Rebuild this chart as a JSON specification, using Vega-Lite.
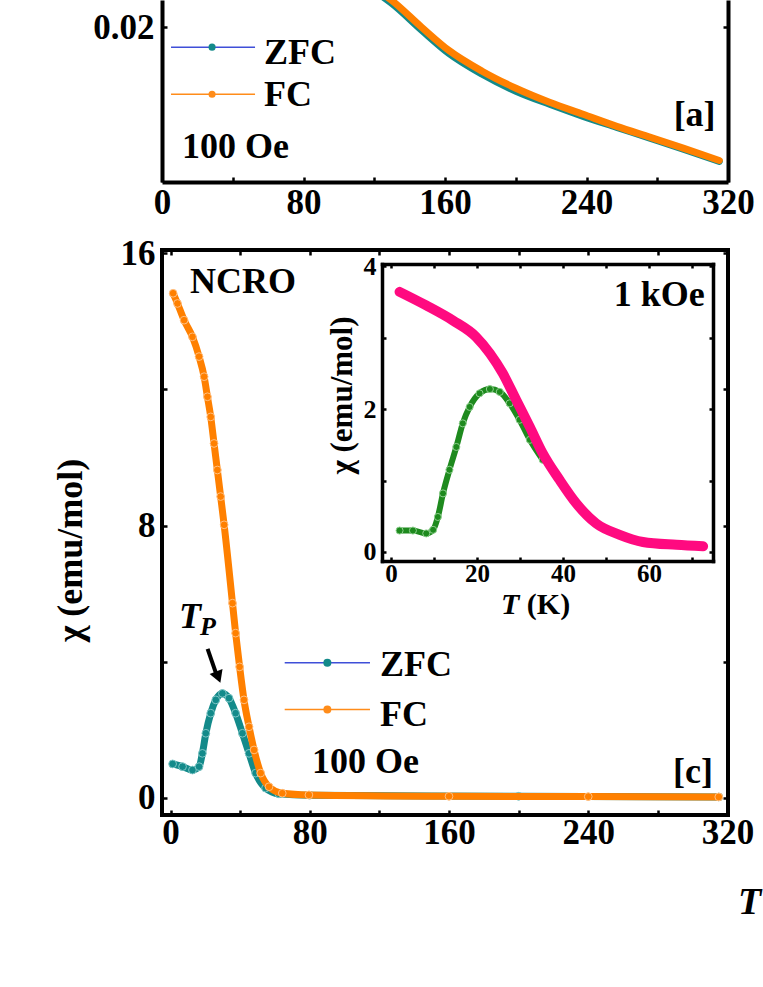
{
  "$schema": "https://vega.github.io/schema/vega-lite/v6.json",
  "padding": {"left": 50, "top": 0, "right": 0, "bottom": 0},
  "autosize": {"type": "pad"},
  "background": "white",
  "config": {
    "font": "Liberation Serif",
    "axis": {"grid": false, "labelFont": "Liberation Serif", "labelFontWeight": "bold", "labelColor": "black", "labelFontSize": 35, "tickColor": "black", "tickWidth": 2.5, "tickSize": -5, "domainColor": "black", "domainWidth": 4, "titleFont": "Liberation Serif", "titleFontWeight": "bold", "titleColor": "black", "labelPadding": 5, "labelFlush": false},
    "text": {"font": "Liberation Serif", "fontWeight": "bold", "color": "black"}
  },
  "datasets": {
    "topCurves": [
      {"series": "FC", "T": 125, "chi": 0.0233}, {"series": "FC", "T": 129.6, "chi": 0.0227}, {"series": "FC", "T": 146.7, "chi": 0.0200}, {"series": "FC", "T": 162, "chi": 0.0177}, {"series": "FC", "T": 181, "chi": 0.0156}, {"series": "FC", "T": 200.1, "chi": 0.0139}, {"series": "FC", "T": 219.1, "chi": 0.0125}, {"series": "FC", "T": 238.1, "chi": 0.0113}, {"series": "FC", "T": 257.1, "chi": 0.0101}, {"series": "FC", "T": 276.2, "chi": 0.0090}, {"series": "FC", "T": 295.1, "chi": 0.0079}, {"series": "FC", "T": 315.1, "chi": 0.0067},
      {"series": "ZFC", "T": 125, "chi": 0.0230}, {"series": "ZFC", "T": 129.6, "chi": 0.0224}, {"series": "ZFC", "T": 146.7, "chi": 0.0197}, {"series": "ZFC", "T": 162, "chi": 0.0174}, {"series": "ZFC", "T": 181, "chi": 0.0153}, {"series": "ZFC", "T": 200.1, "chi": 0.0136}, {"series": "ZFC", "T": 219.1, "chi": 0.0123}, {"series": "ZFC", "T": 238.1, "chi": 0.0111}, {"series": "ZFC", "T": 257.1, "chi": 0.0100}, {"series": "ZFC", "T": 276.2, "chi": 0.0089}, {"series": "ZFC", "T": 295.1, "chi": 0.0078}, {"series": "ZFC", "T": 315.1, "chi": 0.0066}
    ],
    "mainCurves": [
      {"series": "FC", "T": 1.5, "chi": 14.82}, {"series": "FC", "T": 4.0, "chi": 14.52}, {"series": "FC", "T": 7.8, "chi": 14.03}, {"series": "FC", "T": 12.6, "chi": 13.54}, {"series": "FC", "T": 16.4, "chi": 12.96}, {"series": "FC", "T": 19.3, "chi": 12.37}, {"series": "FC", "T": 21.2, "chi": 11.78}, {"series": "FC", "T": 23.1, "chi": 11.19}, {"series": "FC", "T": 25.0, "chi": 10.41}, {"series": "FC", "T": 26.9, "chi": 9.63}, {"series": "FC", "T": 28.8, "chi": 8.85}, {"series": "FC", "T": 30.8, "chi": 8.02}, {"series": "FC", "T": 35.6, "chi": 5.72}, {"series": "FC", "T": 37.4, "chi": 4.84}, {"series": "FC", "T": 39.7, "chi": 3.85}, {"series": "FC", "T": 42.2, "chi": 2.88}, {"series": "FC", "T": 45.1, "chi": 2.09}, {"series": "FC", "T": 48.0, "chi": 1.41}, {"series": "FC", "T": 51.8, "chi": 0.73}, {"series": "FC", "T": 56.6, "chi": 0.33}, {"series": "FC", "T": 64.2, "chi": 0.14}, {"series": "FC", "T": 79.5, "chi": 0.09}, {"series": "FC", "T": 160, "chi": 0.05}, {"series": "FC", "T": 240, "chi": 0.04}, {"series": "FC", "T": 315, "chi": 0.03},
      {"series": "ZFC", "T": 1.2, "chi": 1.00}, {"series": "ZFC", "T": 6.9, "chi": 0.92}, {"series": "ZFC", "T": 12.6, "chi": 0.82}, {"series": "ZFC", "T": 16.4, "chi": 0.92}, {"series": "ZFC", "T": 18.3, "chi": 1.31}, {"series": "ZFC", "T": 20.3, "chi": 1.90}, {"series": "ZFC", "T": 23.1, "chi": 2.49}, {"series": "ZFC", "T": 26.0, "chi": 2.88}, {"series": "ZFC", "T": 29.8, "chi": 3.07}, {"series": "ZFC", "T": 33.6, "chi": 2.93}, {"series": "ZFC", "T": 37.4, "chi": 2.49}, {"series": "ZFC", "T": 41.3, "chi": 1.90}, {"series": "ZFC", "T": 45.1, "chi": 1.31}, {"series": "ZFC", "T": 48.9, "chi": 0.73}, {"series": "ZFC", "T": 54.6, "chi": 0.29}, {"series": "ZFC", "T": 62.3, "chi": 0.12}, {"series": "ZFC", "T": 80, "chi": 0.08}, {"series": "ZFC", "T": 200, "chi": 0.05}, {"series": "ZFC", "T": 315, "chi": 0.03}
    ],
    "insetCurves": [
      {"series": "FC", "T": 2.0, "chi": 3.64}, {"series": "FC", "T": 8.2, "chi": 3.45}, {"series": "FC", "T": 14.4, "chi": 3.24}, {"series": "FC", "T": 19.8, "chi": 3.01}, {"series": "FC", "T": 23.0, "chi": 2.78}, {"series": "FC", "T": 26.0, "chi": 2.50}, {"series": "FC", "T": 29.1, "chi": 2.13}, {"series": "FC", "T": 32.3, "chi": 1.75}, {"series": "FC", "T": 35.3, "chi": 1.38}, {"series": "FC", "T": 39.2, "chi": 1.01}, {"series": "FC", "T": 43.1, "chi": 0.68}, {"series": "FC", "T": 47.7, "chi": 0.40}, {"series": "FC", "T": 53.2, "chi": 0.24}, {"series": "FC", "T": 58.6, "chi": 0.14}, {"series": "FC", "T": 66.4, "chi": 0.10}, {"series": "FC", "T": 72.6, "chi": 0.08},
      {"series": "ZFC", "T": 2.0, "chi": 0.30}, {"series": "ZFC", "T": 5.1, "chi": 0.30}, {"series": "ZFC", "T": 8.2, "chi": 0.26}, {"series": "ZFC", "T": 9.8, "chi": 0.31}, {"series": "ZFC", "T": 10.9, "chi": 0.49}, {"series": "ZFC", "T": 12.1, "chi": 0.82}, {"series": "ZFC", "T": 13.6, "chi": 1.15}, {"series": "ZFC", "T": 15.2, "chi": 1.47}, {"series": "ZFC", "T": 16.7, "chi": 1.80}, {"series": "ZFC", "T": 18.3, "chi": 2.03}, {"series": "ZFC", "T": 20.6, "chi": 2.22}, {"series": "ZFC", "T": 23.0, "chi": 2.28}, {"series": "ZFC", "T": 25.3, "chi": 2.24}, {"series": "ZFC", "T": 27.6, "chi": 2.08}, {"series": "ZFC", "T": 29.9, "chi": 1.85}, {"series": "ZFC", "T": 32.3, "chi": 1.57}, {"series": "ZFC", "T": 35.3, "chi": 1.29}
    ]
  },
  "vconcat": [
    {
      "width": 566,
      "height": 182,
      "view": {"stroke": null},
      "layer": [
        {
          "data": {"name": "topCurves"},
          "transform": [{"filter": "datum.series === 'ZFC'"}],
          "mark": {"type": "line", "color": "#138a8a", "strokeWidth": 7, "clip": true, "interpolate": "monotone", "strokeCap": "round"},
          "encoding": {
            "x": {"field": "T", "type": "quantitative", "scale": {"domain": [0, 320], "nice": false, "zero": false}, "axis": null},
            "y": {"field": "chi", "type": "quantitative", "scale": {"domain": [0.00455, 0.0227], "nice": false, "zero": false}, "axis": {"orient": "right", "values": [0.02], "labels": false, "title": null, "domainCap": "butt"}}
          }
        },
        {
          "data": {"name": "topCurves"},
          "transform": [{"filter": "datum.series === 'FC'"}],
          "mark": {"type": "line", "color": "#ff8000", "strokeWidth": 7, "clip": true, "interpolate": "monotone", "strokeCap": "round"},
          "encoding": {
            "x": {"field": "T", "type": "quantitative", "scale": {"domain": [0, 320], "nice": false, "zero": false}, "axis": {"orient": "bottom", "values": [0, 40, 80, 120, 160, 200, 240, 280, 320], "labelExpr": "datum.value % 80 === 0 ? datum.label : ''", "labelPadding": 8, "title": null, "domainCap": "butt"}},
            "y": {"field": "chi", "type": "quantitative", "scale": {"domain": [0.00455, 0.0227], "nice": false, "zero": false}, "axis": {"orient": "left", "values": [0.02], "title": null, "labelPadding": 13, "domainCap": "butt"}}
          }
        },
        {
          "data": {"values": [{"series": "ZFC", "T1": 5.1, "T2": 52.6, "chi": 0.0180}, {"series": "FC", "T1": 5.1, "T2": 52.6, "chi": 0.0133}]},
          "mark": {"type": "rule", "strokeWidth": 1.5},
          "encoding": {
            "x": {"field": "T1", "type": "quantitative", "axis": null},
            "x2": {"field": "T2"},
            "y": {"field": "chi", "type": "quantitative", "axis": null},
            "color": {"field": "series", "type": "nominal", "scale": {"domain": ["ZFC", "FC"], "range": ["#3f4fd8", "#ff8c1a"]}, "legend": null}
          }
        },
        {
          "data": {"values": [{"series": "ZFC", "T": 28.3, "chi": 0.0180}, {"series": "FC", "T": 28.3, "chi": 0.0133}]},
          "mark": {"type": "point", "filled": true, "size": 50, "opacity": 1},
          "encoding": {
            "x": {"field": "T", "type": "quantitative", "axis": null},
            "y": {"field": "chi", "type": "quantitative", "axis": null},
            "fill": {"field": "series", "type": "nominal", "scale": {"domain": ["ZFC", "FC"], "range": ["#138a8a", "#ff8c1a"]}, "legend": null}
          }
        },
        {
          "data": {"values": [{"label": "ZFC", "T": 57.7, "chi": 0.0174}, {"label": "FC", "T": 57.7, "chi": 0.0132}, {"label": "100 Oe", "T": 11.3, "chi": 0.0080}]},
          "mark": {"type": "text", "align": "left", "baseline": "middle", "fontSize": 36},
          "encoding": {
            "x": {"field": "T", "type": "quantitative", "axis": null},
            "y": {"field": "chi", "type": "quantitative", "axis": null},
            "text": {"field": "label"}
          }
        },
        {
          "data": {"values": [{"label": "[a]", "T": 313, "chi": 0.0112}]},
          "mark": {"type": "text", "align": "right", "baseline": "middle", "fontSize": 36},
          "encoding": {
            "x": {"field": "T", "type": "quantitative", "axis": null},
            "y": {"field": "chi", "type": "quantitative", "axis": null},
            "text": {"field": "label"}
          }
        }
      ],
      "resolve": {"axis": {"x": "independent", "y": "independent"}}
    },
    {
      "width": 566,
      "height": 565,
      "view": {"stroke": "black", "strokeWidth": 4},
      "layer": [
        {
          "layer": [
            {
              "data": {"name": "mainCurves"},
              "transform": [{"filter": "datum.series === 'ZFC'"}],
              "mark": {"type": "line", "color": "#138a8a", "strokeWidth": 7, "interpolate": "monotone"},
              "encoding": {
                "x": {"field": "T", "type": "quantitative", "scale": {"domain": [-4.9, 320.3], "nice": false, "zero": false}, "axis": {"orient": "top", "values": [0, 40, 80, 120, 160, 200, 240, 280, 320], "labels": false, "domain": false, "title": null}},
                "y": {"field": "chi", "type": "quantitative", "scale": {"domain": [-0.5, 16.09], "nice": false, "zero": false}, "axis": {"orient": "right", "values": [0, 4, 8, 12, 16], "labels": false, "domain": false, "title": null}}
              }
            },
            {
              "data": {"name": "mainCurves"},
              "transform": [{"filter": "datum.series === 'ZFC'"}],
              "mark": {"type": "point", "filled": true, "size": 60, "color": "#138a8a", "opacity": 1, "stroke": "#7fc6c6", "strokeWidth": 1},
              "encoding": {
                "x": {"field": "T", "type": "quantitative", "axis": null},
                "y": {"field": "chi", "type": "quantitative", "axis": null}
              }
            },
            {
              "data": {"name": "mainCurves"},
              "transform": [{"filter": "datum.series === 'FC'"}],
              "mark": {"type": "line", "color": "#ff8000", "strokeWidth": 7, "interpolate": "monotone"},
              "encoding": {
                "x": {"field": "T", "type": "quantitative", "scale": {"domain": [-4.9, 320.3], "nice": false, "zero": false}, "axis": {"orient": "bottom", "values": [0, 40, 80, 120, 160, 200, 240, 280, 320], "labelExpr": "datum.value % 80 === 0 ? datum.label : ''", "domain": false, "labelPadding": 5, "title": "T", "titleFontStyle": "italic", "titleFontSize": 38, "titleX": 587, "titleY": 87, "titleAlign": "center", "titleBaseline": "middle"}},
                "y": {"field": "chi", "type": "quantitative", "scale": {"domain": [-0.5, 16.09], "nice": false, "zero": false}, "axis": {"orient": "left", "values": [0, 4, 8, 12, 16], "labelExpr": "datum.value % 8 === 0 ? datum.label : ''", "domain": false, "labelPadding": 12, "title": "χ (emu/mol)", "titleFontSize": 36, "titleX": -92, "titleY": 300, "titleAngle": -90, "titleAlign": "center", "titleBaseline": "middle"}}
              }
            },
            {
              "data": {"name": "mainCurves"},
              "transform": [{"filter": "datum.series === 'FC'"}],
              "mark": {"type": "point", "filled": true, "size": 60, "color": "#ff8000", "opacity": 1, "stroke": "#ffbf80", "strokeWidth": 1},
              "encoding": {
                "x": {"field": "T", "type": "quantitative", "axis": null},
                "y": {"field": "chi", "type": "quantitative", "axis": null}
              }
            },
            {
              "data": {"values": [{"series": "ZFC", "T1": 65.6, "T2": 114.6, "chi": 3.97}, {"series": "FC", "T1": 65.6, "T2": 114.6, "chi": 2.60}]},
              "mark": {"type": "rule", "strokeWidth": 1.5},
              "encoding": {
                "x": {"field": "T1", "type": "quantitative", "axis": null},
                "x2": {"field": "T2"},
                "y": {"field": "chi", "type": "quantitative", "axis": null},
                "color": {"field": "series", "type": "nominal", "scale": {"domain": ["ZFC", "FC"], "range": ["#9a9aee", "#ff8c1a"]}, "legend": null}
              }
            },
            {
              "data": {"values": [{"series": "ZFC", "T": 90.1, "chi": 3.97}, {"series": "FC", "T": 90.1, "chi": 2.60}]},
              "mark": {"type": "point", "filled": true, "size": 64, "opacity": 1},
              "encoding": {
                "x": {"field": "T", "type": "quantitative", "axis": null},
                "y": {"field": "chi", "type": "quantitative", "axis": null},
                "fill": {"field": "series", "type": "nominal", "scale": {"domain": ["ZFC", "FC"], "range": ["#138a8a", "#ff8c1a"]}, "legend": null}
              }
            },
            {
              "data": {"values": [{"label": "ZFC", "T": 120.4, "chi": 3.90}, {"label": "FC", "T": 120.4, "chi": 2.44}, {"label": "100 Oe", "T": 81.3, "chi": 1.06}, {"label": "NCRO", "T": 11.2, "chi": 15.15}]},
              "mark": {"type": "text", "align": "left", "baseline": "middle", "fontSize": 36},
              "encoding": {
                "x": {"field": "T", "type": "quantitative", "axis": null},
                "y": {"field": "chi", "type": "quantitative", "axis": null},
                "text": {"field": "label"}
              }
            },
            {
              "data": {"values": [{"label": "[c]", "T": 311.7, "chi": 0.76}]},
              "mark": {"type": "text", "align": "right", "baseline": "middle", "fontSize": 36},
              "encoding": {
                "x": {"field": "T", "type": "quantitative", "axis": null},
                "y": {"field": "chi", "type": "quantitative", "axis": null},
                "text": {"field": "label"}
              }
            },
            {
              "data": {"values": [{"label": "T", "T": 11.2, "chi": 5.31}]},
              "mark": {"type": "text", "align": "center", "baseline": "middle", "fontSize": 36, "fontStyle": "italic"},
              "encoding": {
                "x": {"field": "T", "type": "quantitative", "axis": null},
                "y": {"field": "chi", "type": "quantitative", "axis": null},
                "text": {"field": "label"}
              }
            },
            {
              "data": {"values": [{"label": "P", "T": 21.5, "chi": 5.02}]},
              "mark": {"type": "text", "align": "center", "baseline": "middle", "fontSize": 26, "fontStyle": "italic"},
              "encoding": {
                "x": {"field": "T", "type": "quantitative", "axis": null},
                "y": {"field": "chi", "type": "quantitative", "axis": null},
                "text": {"field": "label"}
              }
            },
            {
              "data": {"values": [{"T1": 21.3, "chi1": 4.38, "T2": 26.0, "chi2": 3.68}]},
              "mark": {"type": "rule", "strokeWidth": 4, "color": "black"},
              "encoding": {
                "x": {"field": "T1", "type": "quantitative", "axis": null},
                "y": {"field": "chi1", "type": "quantitative", "axis": null},
                "x2": {"field": "T2"},
                "y2": {"field": "chi2"}
              }
            },
            {
              "data": {"values": [{"T": 27.4, "chi": 3.55}]},
              "mark": {"type": "point", "shape": "triangle-down", "filled": true, "size": 190, "color": "black", "opacity": 1, "angle": -21},
              "encoding": {
                "x": {"field": "T", "type": "quantitative", "axis": null},
                "y": {"field": "chi", "type": "quantitative", "axis": null}
              }
            }
          ],
          "resolve": {"axis": {"x": "independent", "y": "independent"}}
        },
        {
          "layer": [
            {
              "data": {"name": "insetCurves"},
              "transform": [{"filter": "datum.series === 'ZFC'"}],
              "mark": {"type": "line", "color": "#1e8a1e", "strokeWidth": 6, "interpolate": "monotone"},
              "encoding": {
                "x": {"field": "T", "type": "quantitative", "scale": {"domain": [-2.09, 74.9], "range": [220, 551], "nice": false, "zero": false}, "axis": {"orient": "bottom", "offset": -254, "values": [0, 10, 20, 30, 40, 50, 60, 70], "labelExpr": "datum.value % 20 === 0 ? datum.label : ''", "labelFontSize": 25, "labelPadding": 4, "tickSize": -4, "domain": true, "domainWidth": 3.5, "domainCap": "square", "title": null, "zindex": 1}},
                "y": {"field": "chi", "type": "quantitative", "scale": {"domain": [-0.126, 4.03], "range": [311, 14], "nice": false, "zero": false}, "axis": {"orient": "left", "offset": -220, "values": [0, 1, 2, 3, 4], "labelExpr": "datum.value % 2 === 0 ? datum.label : ''", "labelFontSize": 26, "labelPadding": 10, "tickSize": -4, "domain": true, "domainWidth": 3.5, "domainCap": "square", "title": "χ (emu/mol)", "titleFontSize": 31, "titleX": -40, "titleY": 145, "titleAngle": -90, "titleAlign": "center", "titleBaseline": "middle", "zindex": 1}}
              }
            },
            {
              "data": {"name": "insetCurves"},
              "transform": [{"filter": "datum.series === 'ZFC'"}],
              "mark": {"type": "point", "filled": true, "size": 50, "color": "#1e8a1e", "opacity": 1, "stroke": "#8fd08f", "strokeWidth": 1},
              "encoding": {
                "x": {"field": "T", "type": "quantitative", "axis": null},
                "y": {"field": "chi", "type": "quantitative", "axis": null}
              }
            },
            {
              "data": {"name": "insetCurves"},
              "transform": [{"filter": "datum.series === 'FC'"}],
              "mark": {"type": "line", "color": "#ff0a80", "strokeWidth": 10, "interpolate": "monotone", "strokeCap": "round"},
              "encoding": {
                "x": {"field": "T", "type": "quantitative", "axis": {"orient": "top", "offset": -14, "values": [0, 10, 20, 30, 40, 50, 60, 70], "labels": false, "tickSize": -4, "domain": true, "domainWidth": 3.5, "domainCap": "square", "title": null, "zindex": 1}},
                "y": {"field": "chi", "type": "quantitative", "axis": {"orient": "right", "offset": -15, "values": [0, 1, 2, 3, 4], "labels": false, "tickSize": -4, "domain": true, "domainWidth": 3.5, "domainCap": "square", "title": null, "zindex": 1}}
              }
            },
            {
              "data": {"values": [{"label": "1 kOe", "T": 73.0, "chi": 3.59}]},
              "mark": {"type": "text", "align": "right", "baseline": "middle", "fontSize": 36},
              "encoding": {
                "x": {"field": "T", "type": "quantitative", "axis": null},
                "y": {"field": "chi", "type": "quantitative", "axis": null},
                "text": {"field": "label"}
              }
            },
            {
              "data": {"values": [{"label": "T", "T": 25.6, "chi": -0.74}]},
              "mark": {"type": "text", "align": "left", "baseline": "middle", "fontSize": 30, "fontStyle": "italic"},
              "encoding": {
                "x": {"field": "T", "type": "quantitative", "axis": null},
                "y": {"field": "chi", "type": "quantitative", "axis": null},
                "text": {"field": "label"}
              }
            },
            {
              "data": {"values": [{"label": "(K)", "T": 31.6, "chi": -0.74}]},
              "mark": {"type": "text", "align": "left", "baseline": "middle", "fontSize": 30},
              "encoding": {
                "x": {"field": "T", "type": "quantitative", "axis": null},
                "y": {"field": "chi", "type": "quantitative", "axis": null},
                "text": {"field": "label"}
              }
            }
          ],
          "resolve": {"axis": {"x": "independent", "y": "independent"}}
        }
      ],
      "resolve": {"scale": {"x": "independent", "y": "independent"}, "axis": {"x": "independent", "y": "independent"}}
    }
  ],
  "spacing": 68,
  "bounds": "flush"
}
